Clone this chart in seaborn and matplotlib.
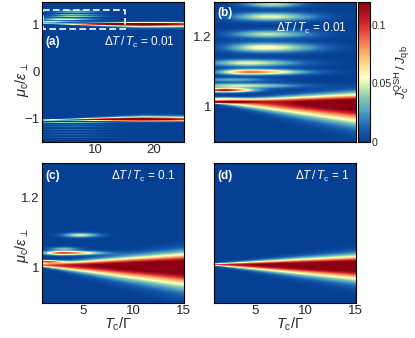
import numpy as np
import matplotlib
matplotlib.use("Agg")
import matplotlib.pyplot as plt
import seaborn as sns
from matplotlib.colors import LinearSegmentedColormap
from matplotlib.patches import Rectangle

# ---------------- values ----------------
# x: T_c/Gamma, y: mu_c/eps_perp, colour: J_c^QSH/J_qb
x_range_a = [1, 25]
y_range_a = [-1.48, 1.47]
x_range_zoom = [1, 15]
y_range_zoom = [0.9, 1.3]
cbar_max = 0.12

# Delta T/T_c = 0.01, fringes above mu=+1 (panel b, top of panel a)
b_centre = [1.294, 1.258, 1.208, 1.170, 1.126, 1.100, 1.078, 1.061, 1.048, 1.024, 1.015]
b_width  = [0.007, 0.0085, 0.008, 0.0095, 0.007, 0.0055, 0.004, 0.005, 0.004, 0.003, 0.003]
b_xpeak  = [6.8, 6.5, 6.3, 6.0, 4.3, 4.5, 3.0, 3.5, 2.0, 1.5, 1.5]
b_xleft  = [2.0, 2.5, 2.5, 2.5, 2.5, 2.0, 3.0, 3.0, 2.0, 2.0, 2.0]
b_xright = [2.0, 3.0, 3.0, 3.5, 3.5, 3.5, 2.5, 4.0, 2.0, 2.0, 2.5]
b_peak   = [0.045, 0.052, 0.045, 0.058, 0.052, 0.090, 0.030, 0.050, 0.110, 0.050, 0.070]
# main branch: centre(x=1), centre(x=15), upper width(1), upper width(15),
#              lower width(1), lower width(15), x of maximum, x spread, peak
b_main = [1.015, 1.010, 0.003, 0.019, 0.003, 0.036, 16.0, 12.0, 0.14]

# Delta T/T_c = 0.01, fringes below mu=-1 (bottom of panel a)
a_low_centre = [-1.020, -1.070, -1.120, -1.160, -1.220, -1.270, -1.330, -1.380]
a_low_width  = [0.004, 0.006, 0.005, 0.005, 0.005, 0.005, 0.005, 0.005]
a_low_xpeak  = [1.5, 5.0, 6.0, 6.0, 6.0, 6.0, 6.0, 6.0]
a_low_xleft  = [2.0, 4.0, 4.0, 4.0, 4.0, 4.0, 4.0, 4.0]
a_low_xright = [2.0, 5.0, 4.5, 4.5, 4.5, 4.5, 4.5, 4.5]
a_low_peak   = [0.100, 0.060, 0.030, 0.030, 0.025, 0.025, 0.025, 0.020]
a_low_main = [-1.012, -1.008, 0.003, 0.036, 0.003, 0.019, 16.0, 12.0, 0.14]

# Delta T/T_c = 0.1 (panel c)
c_centre = [1.094, 1.055, 1.043, 1.018]
c_width  = [0.0045, 0.0035, 0.004, 0.003]
c_xpeak  = [4.8, 3.2, 3.0, 1.3]
c_xleft  = [1.2, 1.0, 1.2, 1.0]
c_xright = [1.3, 1.0, 2.5, 1.2]
c_peak   = [0.050, 0.035, 0.100, 0.100]
c_main = [1.008, 1.006, 0.003, 0.024, 0.003, 0.038, 16.0, 16.0, 0.145]

# Delta T/T_c = 1 (panel d): only the main branch
d_main = [1.010, 1.007, 0.002, 0.019, 0.002, 0.027, 15.0, 16.0, 0.145]

# tick values
a_xmajor, a_xminor = [10, 20], [5, 15]
a_ymajor, a_yminor = [-1, 0, 1], [-0.5, 0.5]
z_xmajor, z_xminor = [5, 10, 15], [2.5, 7.5, 12.5]
z_ymajor, z_yminor = [1.0, 1.2], [1.1]
cb_major, cb_minor = [0, 0.05, 0.1], [0.025, 0.075]
dT_labels = ["0.01", "0.01", "0.1", "1"]

# ---------------- build the maps ----------------
NX, NY, SX, SY = 141, 140, 2, 6


def add_bands(X, Y, centre, width, xpeak, xl, xr, peak):
    Z = np.zeros_like(X)
    for c, w, xp, l, r, p in zip(centre, width, xpeak, xl, xr, peak):
        s = np.where(X < xp, l, r)
        Z += p * np.exp(-0.5 * ((X - xp) / s) ** 2) * np.exp(-0.5 * ((Y - c) / w) ** 2)
    return Z


def add_main(X, Y, m):
    c0, c1, su0, su1, sd0, sd1, xp, sx, p = m
    t = np.minimum((X - 1.0) / 14.0, 1.2)
    cen = c0 + (c1 - c0) * t
    su = np.maximum(su0 + (su1 - su0) * t, 0.002)
    sd = np.maximum(sd0 + (sd1 - sd0) * t, 0.002)
    s = np.where(Y > cen, su, sd)
    return p * np.exp(-0.5 * ((X - xp) / sx) ** 2) * np.exp(-0.5 * ((Y - cen) / s) ** 2)


def grid(xr, yr):
    xs = np.linspace(xr[0], xr[1], NX * SX, endpoint=False) + (xr[1] - xr[0]) / (NX * SX) / 2
    ys = np.linspace(yr[1], yr[0], NY * SY, endpoint=False) - (yr[1] - yr[0]) / (NY * SY) / 2
    return np.meshgrid(xs, ys)


def block(Z):
    return Z.reshape(NY, SY, NX, SX).mean(axis=(1, 3))


Xa, Ya = grid(x_range_a, y_range_a)
Za = (add_bands(Xa, Ya, b_centre, b_width, b_xpeak, b_xleft, b_xright, b_peak)
      + add_main(Xa, Ya, b_main)
      + add_bands(Xa, Ya, a_low_centre, a_low_width, a_low_xpeak, a_low_xleft, a_low_xright, a_low_peak)
      + add_main(Xa, Ya, a_low_main))
Xz, Yz = grid(x_range_zoom, y_range_zoom)
Zb = add_bands(Xz, Yz, b_centre, b_width, b_xpeak, b_xleft, b_xright, b_peak) + add_main(Xz, Yz, b_main)
Zc = add_bands(Xz, Yz, c_centre, c_width, c_xpeak, c_xleft, c_xright, c_peak) + add_main(Xz, Yz, c_main)
Zd = add_main(Xz, Yz, d_main)
maps = [block(Za), block(Zb), block(Zc), block(Zd)]

# ---------------- style ----------------
sns.set_style("ticks")
plt.rcParams["font.family"] = ["Liberation Sans", "DejaVu Sans"]
plt.rcParams["mathtext.fontset"] = "custom"
plt.rcParams["mathtext.rm"] = "Liberation Sans"
plt.rcParams["mathtext.it"] = "Liberation Sans:italic"
plt.rcParams["mathtext.bf"] = "Liberation Sans:bold"

cmap = LinearSegmentedColormap.from_list("qsh", [
    (0.00, (0.02, 0.25, 0.58)),
    (0.10, (0.10, 0.38, 0.70)),
    (0.21, (0.30, 0.62, 0.76)),
    (0.31, (0.52, 0.78, 0.70)),
    (0.39, (0.80, 0.92, 0.68)),
    (0.46, (1.00, 1.00, 0.80)),
    (0.55, (0.99, 0.87, 0.55)),
    (0.65, (0.98, 0.65, 0.38)),
    (0.75, (0.93, 0.38, 0.27)),
    (0.86, (0.80, 0.12, 0.16)),
    (1.00, (0.55, 0.00, 0.08)),
])

W, H = 415, 338
fig = plt.figure(figsize=(W / 100, H / 100), dpi=100)
pos = [(42.3, 1.7), (214.3, 1.7), (42.3, 162.7), (214.3, 162.7)]
aw, ah = 141.3, 140.0
axes = [fig.add_axes([x / W, 1 - (y + ah) / H, aw / W, ah / H]) for x, y in pos]
cax = fig.add_axes([358 / W, 1 - (1.7 + ah) / H, 12 / W, ah / H])

ranges = [(x_range_a, y_range_a), (x_range_zoom, y_range_zoom),
          (x_range_zoom, y_range_zoom), (x_range_zoom, y_range_zoom)]

for i, (ax, Z, (xr, yr)) in enumerate(zip(axes, maps, ranges)):
    sns.heatmap(Z, ax=ax, cmap=cmap, vmin=0, vmax=cbar_max,
                cbar=(i == 1), cbar_ax=cax if i == 1 else None,
                xticklabels=False, yticklabels=False, rasterized=True)
    fx = lambda v, xr=xr: (np.asarray(v, float) - xr[0]) / (xr[1] - xr[0]) * NX
    fy = lambda v, yr=yr: (yr[1] - np.asarray(v, float)) / (yr[1] - yr[0]) * NY
    if i == 0:
        xM, xm, yM, ym = a_xmajor, a_xminor, a_ymajor, a_yminor
    else:
        xM, xm, yM, ym = z_xmajor, z_xminor, z_ymajor, z_yminor
    ax.set_xticks(fx(xM))
    ax.set_xticks(fx(xm), minor=True)
    ax.set_yticks(fy(yM))
    ax.set_yticks(fy(ym), minor=True)
    xlab = [f"{v:g}" for v in xM] if i in (0, 2, 3) else [""] * len(xM)
    ylab = [f"{v:g}".replace("-", "\u2212") for v in yM] if i in (0, 1, 2) else [""] * len(yM)
    ax.set_xticklabels(xlab, rotation=0, fontsize=9.5)
    ax.set_yticklabels(ylab, rotation=0, fontsize=9.5)
    ax.tick_params(which="both", direction="in", top=True, right=True,
                   width=0.6, color="black", pad=2)
    ax.tick_params(which="major", length=3)
    ax.tick_params(which="minor", length=1.8)
    for s in ax.spines.values():
        s.set_visible(True)
        s.set_linewidth(0.8)
        s.set_color("black")
    ax.text(0.02, 0.71 if i == 0 else (0.92 if i == 1 else 0.905),
            f"({'abcd'[i]})", transform=ax.transAxes, color="white",
            fontsize=8.5, fontweight="bold", ha="left", va="center")
    ax.text(0.94 if i != 3 else 0.96, 0.71 if i == 0 else (0.81 if i == 1 else 0.905),
            r"$\Delta T\,/\,T_{\rm c}$ = " + dT_labels[i], transform=ax.transAxes,
            color="white", fontsize=8.5, ha="right", va="center")

# zoom box in panel a
fxa = lambda v: (v - x_range_a[0]) / (x_range_a[1] - x_range_a[0]) * NX
fya = lambda v: (y_range_a[1] - v) / (y_range_a[1] - y_range_a[0]) * NY
axes[0].add_patch(Rectangle((fxa(x_range_zoom[0]) + 0.4, fya(y_range_zoom[1])),
                            fxa(x_range_zoom[1]) - fxa(x_range_zoom[0]),
                            fya(y_range_zoom[0]) - fya(y_range_zoom[1]),
                            fill=False, ec="white", lw=1.2, ls=(0, (4, 2))))

ylab = r"$\mu_{\rm c}/\varepsilon_{\perp}$"
axes[0].set_ylabel(ylab, fontsize=10.5)
axes[0].yaxis.set_label_coords(-0.08, 0.44)
axes[2].set_ylabel(ylab, fontsize=10.5)
axes[2].yaxis.set_label_coords(-0.08, 0.405)
for ax in (axes[2], axes[3]):
    ax.set_xlabel(r"$T_{\rm c}/\Gamma$", fontsize=10.5)
    ax.xaxis.set_label_coords(0.535, -0.095)

cb = axes[1].collections[0].colorbar
cb.set_ticks(cb_major)
cb.set_ticklabels([f"{v:g}" for v in cb_major])
cb.ax.yaxis.set_ticks(cb_minor, minor=True)
cb.ax.tick_params(which="both", direction="in", width=0.6, labelsize=7.5, pad=1.5)
cb.ax.tick_params(which="major", length=3)
cb.ax.tick_params(which="minor", length=1.8)
cb.outline.set_linewidth(0.8)
cb.outline.set_edgecolor("black")
cb.set_label(r"$J_{\rm c}^{\rm QSH}\,/\,J_{\rm qb}$", fontsize=9.5)
cb.ax.yaxis.set_label_coords(2.85, 0.5)

fig.savefig("out.png", dpi=100)
